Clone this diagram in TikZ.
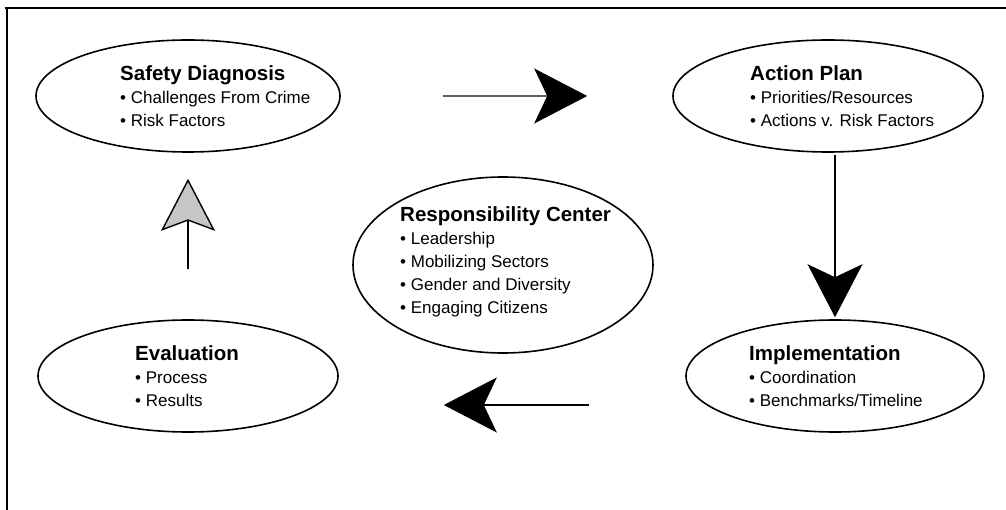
\documentclass[tikz,border=0pt]{standalone}
\usepackage{fontspec}
\setmainfont{Liberation Sans}
\usepackage{tikz}
\usetikzlibrary{shapes,arrows.meta}

\tikzset{
  stage/.style={draw, ellipse, line width=1.6pt, inner sep=0pt},
  stagetext/.style={anchor=west, align=left, inner sep=0pt,
                font=\fontsize{17}{23}\selectfont},
  bigtip/.style={-{Stealth[length=53pt,width=55pt,inset=13pt,color=black]}, line width=1.4pt},
}
\newcommand{\stagetitle}[1]{{\fontsize{20.5}{23}\selectfont\bfseries #1}}

\begin{document}
\begin{tikzpicture}[x=1pt,y=-1pt]
\useasboundingbox (0,0) rectangle (1006,510);
\draw[line width=1.8pt] (5,8) -- (1006,8);
\draw[line width=1.8pt] (7,8) -- (7,510);

\node[stage, minimum width=304pt, minimum height=112pt] (diag) at (188,96) {};
\node[stage, minimum width=310pt, minimum height=112pt] (plan) at (828,96) {};
\node[stage, minimum width=300pt, minimum height=176pt] (resp) at (503,265) {};
\node[stage, minimum width=300pt, minimum height=112pt] (eval) at (188,376) {};
\node[stage, minimum width=298pt, minimum height=112pt] (impl) at (835,376) {};

\node[stagetext] (diagtxt) at (120,96)
  {\stagetitle{Safety Diagnosis}\\ • Challenges From Crime\\ • Risk Factors};
\node[stagetext] (plantxt) at (750,96)
  {\stagetitle{Action Plan}\\ • Priorities/Resources\\ • Actions v. Risk Factors};
\node[stagetext] (resptxt) at (400,262)
  {\stagetitle{Responsibility Center}\\ • Leadership\\ • Mobilizing Sectors\\ • Gender and Diversity\\ • Engaging Citizens};
\node[stagetext] (evaltxt) at (135,376)
  {\stagetitle{Evaluation}\\ • Process\\ • Results};
\node[stagetext] (impltxt) at (749,376)
  {\stagetitle{Implementation}\\ • Coordination\\ • Benchmarks/Timeline};

% cycle arrows
\draw[bigtip, draw=gray!75!black, shorten <=102pt, shorten >=85pt] (diag) -- (plan);
\draw[bigtip, shorten <=2pt, shorten >=2pt] (plan.south -| impl.north) -- (impl.north);
\draw[bigtip, shorten <=96pt, shorten >=105pt] ([yshift=-29pt]impl.west) -- ([yshift=-29pt]eval.east);
\draw[-{Stealth[length=52pt,width=54pt,inset=10pt,fill=gray!45]}, line width=1.4pt,
      shorten <=50pt, shorten >=26pt] (eval) -- (diag);
\end{tikzpicture}
\end{document}
